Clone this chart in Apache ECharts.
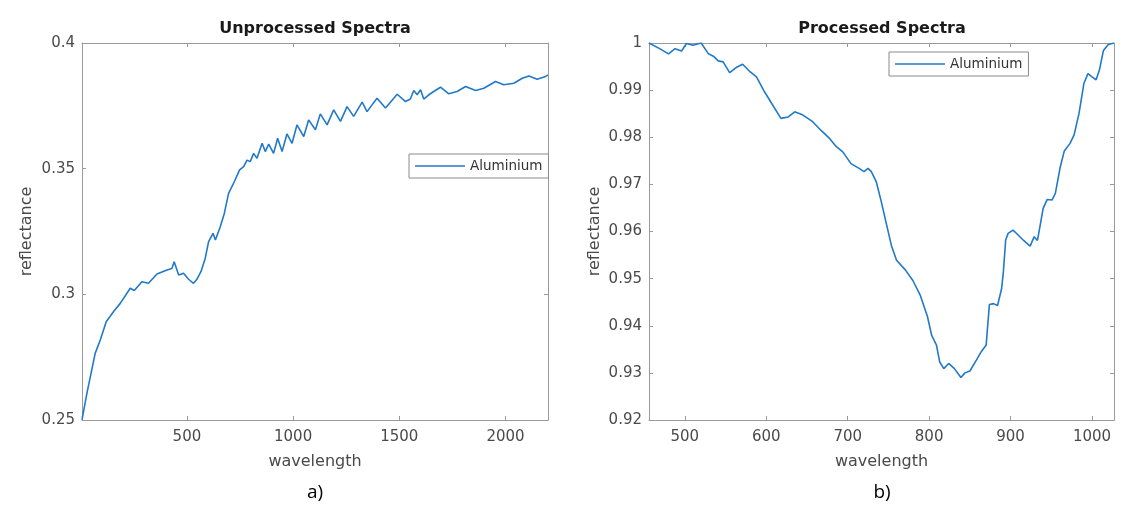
<!DOCTYPE html>
<html>
<head>
<meta charset="utf-8">
<script src="https://cdn.jsdelivr.net/npm/echarts@6/dist/echarts.min.js"></script>
<style>
  html, body { margin: 0; padding: 0; background: #fff; }
  #chart { width: 1136px; height: 515px; }
</style>
</head>
<body>
<div id="chart"></div>
<script>
// unprocessed spectrum (left panel)
var rawWave = [6, 29, 68, 92, 120, 154, 186, 233, 252, 288, 319, 359, 406, 429, 440, 461, 484, 508, 531, 547,
  566, 586, 602, 623, 634, 657, 676, 696, 723, 748, 767, 783, 798, 814, 830, 854, 869, 885, 908, 927,
  948, 971, 995, 1018, 1050, 1073, 1105, 1128, 1160, 1191, 1223, 1254, 1285, 1325, 1348, 1395, 1435, 1490, 1529, 1552,
  1568, 1584, 1600, 1615, 1639, 1662, 1694, 1733, 1772, 1812, 1859, 1898, 1953, 1992, 2039, 2079, 2110, 2149, 2189, 2200];
var rawRefl = [0.2501, 0.2606, 0.2765, 0.2818, 0.2891, 0.2931, 0.2964, 0.3024, 0.3015, 0.3050,
  0.3044, 0.3081, 0.3097, 0.3103, 0.3130, 0.3077, 0.3084, 0.3060, 0.3044, 0.3060,
  0.3090, 0.3143, 0.3210, 0.3243, 0.3216, 0.3269, 0.3322, 0.3402, 0.3448, 0.3495,
  0.3508, 0.3534, 0.3528, 0.3561, 0.3541, 0.3601, 0.3568, 0.3598, 0.3561, 0.3621,
  0.3568, 0.3638, 0.3601, 0.3674, 0.3628, 0.3694, 0.3655, 0.3718, 0.3674, 0.3734,
  0.3688, 0.3747, 0.3708, 0.3765, 0.3727, 0.3780, 0.3741, 0.3796, 0.3767, 0.3777,
  0.3811, 0.3794, 0.3814, 0.3777, 0.3794, 0.3807, 0.3824, 0.3798, 0.3807, 0.3827,
  0.3811, 0.3820, 0.3847, 0.3834, 0.3840, 0.3860, 0.3869, 0.3856, 0.3867, 0.3873];

// processed spectrum (right panel)
var procWave = [456, 469, 480, 488, 496, 502, 510, 520, 529, 535, 541, 547, 555, 563, 571, 580, 588, 598, 608, 618,
  627, 635, 645, 657, 667, 678, 686, 694, 704, 714, 720, 725, 729, 735, 741, 747, 754, 760, 771, 780,
  789, 798, 803, 809, 813, 818, 824, 831, 839, 844, 850, 858, 864, 870, 874, 879, 884, 889, 891, 894,
  897, 903, 909, 916, 924, 929, 933, 936, 940, 945, 951, 955, 961, 966, 973, 978, 984, 990, 995, 1000,
  1005, 1009, 1014, 1020, 1027];
var procRefl = [1.0000, 0.9988, 0.9977, 0.9988, 0.9983, 0.9999, 0.9995, 1.0000, 0.9977, 0.9972,
  0.9962, 0.9960, 0.9937, 0.9948, 0.9955, 0.9939, 0.9928, 0.9896, 0.9868, 0.9840,
  0.9843, 0.9854, 0.9847, 0.9833, 0.9815, 0.9797, 0.9780, 0.9769, 0.9744, 0.9734,
  0.9727, 0.9734, 0.9727, 0.9706, 0.9665, 0.9620, 0.9568, 0.9539, 0.9518, 0.9496,
  0.9465, 0.9419, 0.9380, 0.9359, 0.9323, 0.9309, 0.9320, 0.9309, 0.9290, 0.9300,
  0.9304, 0.9327, 0.9345, 0.9359, 0.9445, 0.9447, 0.9443, 0.9479, 0.9511, 0.9582,
  0.9596, 0.9603, 0.9593, 0.9581, 0.9569, 0.9589, 0.9581, 0.9610, 0.9649, 0.9668,
  0.9667, 0.9681, 0.9737, 0.9771, 0.9787, 0.9805, 0.9850, 0.9914, 0.9935, 0.9928,
  0.9922, 0.9942, 0.9984, 0.9997, 1.0000];

var rawTicks = [500, 1000, 1500, 2000];
var procTicks = [500, 600, 700, 800, 900, 1000];

var boxColor = '#9a9a9a';
var labelColor = '#4a4a4a';
var lineColor = '#2079c9';
var fontFam = 'DejaVu Sans';

function pairs(xs, ys) {
  var out = [];
  for (var i = 0; i < xs.length; i++) out.push([xs[i], ys[i]]);
  return out;
}

function plain(v) {
  return String(v);
}

function xAx(grid, min, max, ticks, pos) {
  var bottom = pos === 'bottom';
  return {
    type: 'value', gridIndex: grid, position: pos, min: min, max: max,
    name: bottom ? 'wavelength' : '', nameLocation: 'middle', nameGap: 34,
    nameTextStyle: { fontFamily: fontFam, fontSize: 16, color: labelColor },
    axisLine: { show: true, onZero: false, lineStyle: { color: boxColor, width: 1 } },
    axisTick: { show: true, inside: true, length: 4, customValues: ticks, lineStyle: { color: boxColor } },
    axisLabel: { show: bottom, customValues: ticks, formatter: plain, margin: 10,
      fontFamily: fontFam, fontSize: 15, color: labelColor },
    splitLine: { show: false }
  };
}

function yAx(grid, min, max, step, pos, gap) {
  var left = pos === 'left';
  return {
    type: 'value', gridIndex: grid, position: pos, min: min, max: max, interval: step,
    name: left ? 'reflectance' : '', nameLocation: 'middle', nameGap: gap,
    nameTextStyle: { fontFamily: fontFam, fontSize: 16, color: labelColor },
    axisLine: { show: true, onZero: false, lineStyle: { color: boxColor, width: 1 } },
    axisTick: { show: true, inside: true, length: 4, lineStyle: { color: boxColor } },
    axisLabel: { show: left, margin: 7, fontFamily: fontFam, fontSize: 15, color: labelColor },
    splitLine: { show: false }
  };
}

function legendAt(left, top) {
  return {
    left: left, top: top, orient: 'horizontal',
    data: [{ name: 'Aluminium', icon: 'rect' }],
    itemWidth: 50, itemHeight: 1.6, itemGap: 0,
    padding: [5, 6, 5, 6],
    borderColor: '#8a8a8a', borderWidth: 1, backgroundColor: '#fff',
    textStyle: { fontFamily: fontFam, fontSize: 13.5, color: '#333' },
    selectedMode: false
  };
}

var myEcharts = echarts.init(document.getElementById('chart'));
var option = {
  animation: false,
  backgroundColor: '#fff',
  title: [
    { text: 'Unprocessed Spectra', left: 315, top: 21, textAlign: 'center', padding: 0,
      textStyle: { fontFamily: fontFam, fontSize: 16, fontWeight: 'bold', color: '#1a1a1a' } },
    { text: 'Processed Spectra', left: 882, top: 21, textAlign: 'center', padding: 0,
      textStyle: { fontFamily: fontFam, fontSize: 16, fontWeight: 'bold', color: '#1a1a1a' } }
  ],
  legend: [legendAt(409, 154), legendAt(889, 52)],
  grid: [
    { left: 82, right: 588, top: 43, bottom: 95, containLabel: false },
    { left: 649, right: 22, top: 43, bottom: 95, containLabel: false }
  ],
  xAxis: [
    xAx(0, 6, 2200, rawTicks, 'bottom'),
    xAx(0, 6, 2200, rawTicks, 'top'),
    xAx(1, 456, 1027, procTicks, 'bottom'),
    xAx(1, 456, 1027, procTicks, 'top')
  ],
  yAxis: [
    yAx(0, 0.25, 0.4, 0.05, 'left', 47),
    yAx(0, 0.25, 0.4, 0.05, 'right', 0),
    yAx(1, 0.92, 1, 0.01, 'left', 46),
    yAx(1, 0.92, 1, 0.01, 'right', 0)
  ],
  series: [
    { name: 'Aluminium', type: 'line', xAxisIndex: 0, yAxisIndex: 0,
      data: pairs(rawWave, rawRefl), symbol: 'none', showSymbol: false,
      lineStyle: { color: lineColor, width: 1.6 }, itemStyle: { color: lineColor } },
    { name: 'Aluminium', type: 'line', xAxisIndex: 2, yAxisIndex: 2,
      data: pairs(procWave, procRefl), symbol: 'none', showSymbol: false,
      lineStyle: { color: lineColor, width: 1.6 }, itemStyle: { color: lineColor } }
  ],
  graphic: [
    { type: 'text', x: 315, y: 493,
      style: { text: 'a)', align: 'center', verticalAlign: 'middle', fill: '#000', font: '19px "Open Sans"' } },
    { type: 'text', x: 882, y: 493,
      style: { text: 'b)', align: 'center', verticalAlign: 'middle', fill: '#000', font: '19px "Open Sans"' } }
  ]
};
myEcharts.setOption(option);
</script>
</body>
</html>
